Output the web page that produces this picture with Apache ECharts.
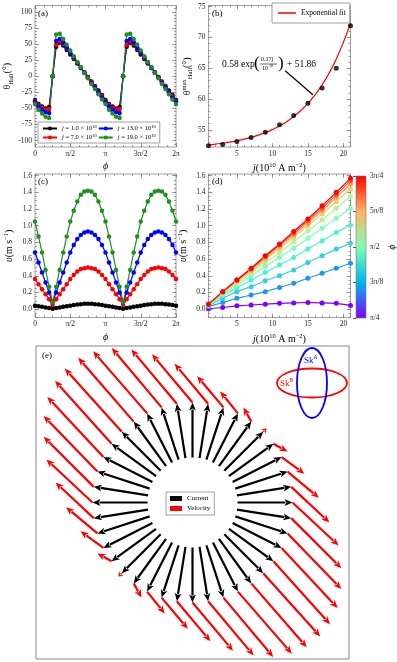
<!DOCTYPE html>
<html><head><meta charset="utf-8">
<script src="https://cdn.jsdelivr.net/npm/echarts@6/dist/echarts.min.js"></script>
<style>html,body{margin:0;padding:0;background:#fff}#main{width:397px;height:662px}</style>
</head><body><div id="main"></div>
<script>
const chart = echarts.init(document.getElementById('main'));
const FONT = 'Liberation Serif';

// phi in units of pi
const phiPi = [0,0.05,0.1,0.15,0.2,0.25,0.3,0.35,0.4,0.45,0.5,0.55,0.6,0.65,0.7,0.75,0.8,0.85,0.9,0.95,
  1,1.05,1.1,1.15,1.2,1.25,1.3,1.35,1.4,1.45,1.5,1.55,1.6,1.65,1.7,1.75,1.8,1.85,1.9,1.95,2];

// (a) Hall angle (deg)
const hallJ1 = [-37,-43,-47,-50,-48,0,46,52,48,41,34,27,20,13,6,-1,-8,-15,-22,-29,
  -37,-43,-47,-50,-48,0,46,52,48,41,34,27,20,13,6,-1,-8,-15,-22,-29,-37];
const hallJ7 = [-39,-45,-49,-52,-51,0,49,54,50,43,36,28,21,14,6,-1,-9,-16,-24,-31,
  -39,-45,-49,-52,-51,0,49,54,50,43,36,28,21,14,6,-1,-9,-16,-24,-31,-39];
const hallJ13 = [-40,-47,-52,-56,-57,0,55,58,52,44,36,29,21,13,6,-2,-10,-17,-25,-33,
  -40,-47,-52,-56,-57,0,55,58,52,44,36,29,21,13,6,-2,-10,-17,-25,-33,-40];
const hallJ19 = [-43,-52,-58,-63,-65,0,65,66,58,49,40,31,22,14,5,-3,-12,-20,-28,-36,
  -43,-52,-58,-63,-65,0,65,66,58,49,40,31,22,14,5,-3,-12,-20,-28,-36,-43];

// (b) max Hall angle vs j
const maxJ = [1,3,5,7,9,11,13,15,17,19,21];
const maxHall = [52.4,52.6,53.1,53.75,54.6,55.8,57.3,59.3,61.8,65.0,71.9];
const fitJ = [1,2,3,4,5,6,7,8,9,10,11,12,13,14,15,16,17,18,19,20,21];
const fitVal = [52.55,52.67,52.83,53.0,53.22,53.47,53.77,54.12,54.54,55.03,55.62,56.32,57.15,58.13,59.29,60.66,62.3,64.23,66.52,69.24,72.3];

// (c) speed vs phi (m/s)
const velJ1 = [0.04,0.035,0.03,0.02,0.015,0.005,0.015,0.02,0.03,0.035,0.04,0.05,0.055,0.06,0.065,0.065,0.065,0.06,0.055,0.05,
  0.04,0.035,0.03,0.02,0.015,0.005,0.015,0.02,0.03,0.035,0.04,0.05,0.055,0.06,0.065,0.065,0.065,0.06,0.055,0.05,0.04];
const velJ7 = [0.36,0.30,0.24,0.18,0.12,0.05,0.12,0.18,0.24,0.30,0.36,0.41,0.45,0.48,0.49,0.50,0.49,0.48,0.45,0.41,
  0.36,0.30,0.24,0.18,0.12,0.05,0.12,0.18,0.24,0.30,0.36,0.41,0.45,0.48,0.49,0.50,0.49,0.48,0.45,0.41,0.36];
const velJ13 = [0.68,0.56,0.44,0.32,0.20,0.08,0.20,0.32,0.44,0.56,0.68,0.77,0.84,0.89,0.92,0.93,0.92,0.89,0.84,0.77,
  0.68,0.56,0.44,0.32,0.20,0.08,0.20,0.32,0.44,0.56,0.68,0.77,0.84,0.89,0.92,0.93,0.92,0.89,0.84,0.77,0.68];
const velJ19 = [1.05,0.87,0.68,0.47,0.27,0.08,0.27,0.47,0.68,0.87,1.05,1.18,1.29,1.37,1.41,1.42,1.41,1.37,1.29,1.18,
  1.05,0.87,0.68,0.47,0.27,0.08,0.27,0.47,0.68,0.87,1.05,1.18,1.29,1.37,1.41,1.42,1.41,1.37,1.29,1.18,1.05];

// (d) speed vs j for several phi
const dJ = [1,3,5,7,9,11,13,15,17,19,21];
const dV0 = [0.005,0.02,0.04,0.05,0.06,0.07,0.075,0.08,0.075,0.07,0.045];
const dV1 = [0.03,0.08,0.13,0.17,0.21,0.26,0.31,0.37,0.43,0.49,0.55];
const dV2 = [0.04,0.13,0.21,0.27,0.34,0.40,0.47,0.56,0.64,0.72,0.79];
const dV3 = [0.05,0.16,0.26,0.35,0.44,0.53,0.62,0.72,0.82,0.92,1.01];
const dV4 = [0.05,0.18,0.29,0.40,0.51,0.62,0.73,0.85,0.97,1.09,1.21];
const dV5 = [0.06,0.19,0.31,0.43,0.56,0.68,0.81,0.94,1.07,1.21,1.35];
const dV6 = [0.06,0.20,0.33,0.45,0.59,0.72,0.86,1.00,1.14,1.29,1.44];
const dV7 = [0.06,0.20,0.34,0.47,0.61,0.75,0.89,1.03,1.18,1.34,1.50];
const dV8 = [0.06,0.21,0.35,0.48,0.63,0.77,0.91,1.06,1.21,1.37,1.54];
const dV9 = [0.06,0.21,0.35,0.49,0.64,0.78,0.93,1.08,1.24,1.40,1.57];
const dLines = [dV0,dV1,dV2,dV3,dV4,dV5,dV6,dV7,dV8,dV9];
const dColors = ['#8000ff','#1a96f3','#33cfe4','#4df3ce','#80ffb4','#b3f396','#e6cf74','#ff964f','#ff4f28','#ff0000'];
const rainbow = ['#8000ff','#00b4ec','#80ffb4','#ffb462','#ff0000'];

const cBlack = '#000000', cRed = '#ff0000', cBlue = '#0000ff', cGreen = '#1f8f1f';

// (e) arrows: current radius and velocity scale
const R_IN = 0.9, R_OUT = 2.0, VEL_SCALE = 1.2;

const xAxes = [], yAxes = [];
const tickStyle = {color: '#222', fontFamily: FONT, fontSize: 7.5};
const nameStyle = {color: '#000', fontFamily: FONT, fontSize: 10,
  rich: {i: {fontStyle: 'italic', fontSize: 10, fontFamily: FONT},
         sub: {fontSize: 6.5, fontFamily: FONT, padding: [6, 0, 0, 0]},
         sup: {fontSize: 6.5, fontFamily: FONT, padding: [0, 0, 6, 0]}}};

function range(a, b, s) { const r = []; for (let v = a; v <= b + 1e-9; v += s) r.push(+v.toFixed(4)); return r; }

function makeAxes(g, dim, r) {
  const list = dim === 'x' ? xAxes : yAxes;
  const pos = dim === 'x' ? ['bottom', 'top'] : ['left', 'right'];
  const idx = list.length;
  pos.forEach((p, k) => {
    [r.major, r.minor].forEach((vals, m) => {
      const main = k === 0 && m === 0;
      list.push({
        gridIndex: g, type: 'value', position: p, min: r.min, max: r.max,
        name: main ? (r.name || '') : '', nameLocation: 'middle', nameGap: r.gap || 12,
        nameRotate: dim === 'y' ? 90 : 0, nameTextStyle: nameStyle,
        axisLine: {show: false, onZero: false}, splitLine: {show: false},
        axisTick: {show: true, inside: true, length: m === 0 ? 4 : 2, customValues: vals,
          lineStyle: {color: '#777', width: 0.7}},
        axisLabel: main ? {show: true, customValues: r.major, formatter: r.fmt, margin: 3, ...tickStyle}
                        : {show: false}
      });
    });
  });
  return idx;
}

const piFmt = v => ({0: '0', 0.5: 'π/2', 1: 'π', 1.5: '3π/2', 2: '2π'})[Math.round(v * 2) / 2];
const jName = '{i|j}(10{sup|10} A m{sup|−2})';
const vName = '{i|υ}(m s{sup|−1})';

// grid a
const axA = makeAxes(0, 'x', {min: 0, max: 2, major: [0, 0.5, 1, 1.5, 2], minor: range(0, 2, 0.125), fmt: piFmt, name: '{i|ϕ}', gap: 14});
const ayA = makeAxes(0, 'y', {min: -110, max: 110, major: range(-100, 100, 25), minor: range(-105, 105, 5), fmt: v => String(v), name: 'θ{sub|Hall}(°)', gap: 19});
// grid b
const axB = makeAxes(1, 'x', {min: 1, max: 21, major: [5, 10, 15, 20], minor: range(1, 21, 1), fmt: v => String(v), name: jName, gap: 15});
const ayB = makeAxes(1, 'y', {min: 52.2, max: 75.2, major: [55, 60, 65, 70, 75], minor: range(53, 75, 1), fmt: v => String(v), name: 'θ{sup|max}{sub|Hall}(°)', gap: 13});
// grid c
const axC = makeAxes(2, 'x', {min: 0, max: 2, major: [0, 0.5, 1, 1.5, 2], minor: range(0, 2, 0.125), fmt: piFmt, name: '{i|ϕ}', gap: 15});
const ayC = makeAxes(2, 'y', {min: -0.1, max: 1.62, major: range(0, 1.6, 0.2), minor: range(-0.1, 1.6, 0.05), fmt: v => v.toFixed(1), name: vName, gap: 19});
// grid d
const axD = makeAxes(3, 'x', {min: 1, max: 21, major: [5, 10, 15, 20], minor: range(1, 21, 1), fmt: v => String(v), name: jName, gap: 15});
const ayD = makeAxes(3, 'y', {min: -0.1, max: 1.62, major: range(0, 1.6, 0.2), minor: range(-0.1, 1.6, 0.05), fmt: v => v.toFixed(1), name: vName, gap: 19});
// colorbar grid 4
const axCB = xAxes.length;
xAxes.push({gridIndex: 4, type: 'value', min: 0, max: 1, show: false});
const ayCB = yAxes.length;
yAxes.push({gridIndex: 4, type: 'value', min: 0.25, max: 0.75, position: 'right',
  name: '{i|ϕ}', nameLocation: 'middle', nameRotate: -90, nameGap: 22, nameTextStyle: nameStyle,
  axisLine: {show: false}, splitLine: {show: false},
  axisTick: {show: true, inside: true, length: 3, customValues: [0.25, 0.375, 0.5, 0.625, 0.75], lineStyle: {color: '#555'}},
  axisLabel: {show: true, customValues: [0.25, 0.375, 0.5, 0.625, 0.75], margin: 4, ...tickStyle,
    formatter: v => ({0.25: 'π/4', 0.375: '3π/8', 0.5: 'π/2', 0.625: '5π/8', 0.75: '3π/4'})[v]}});
// grid e
const axE = xAxes.length;
xAxes.push({gridIndex: 5, type: 'value', min: -3.13, max: 3.13, show: false});
const ayE = yAxes.length;
yAxes.push({gridIndex: 5, type: 'value', min: -3.13, max: 3.13, show: false});

function pairs(xs, ys) { return xs.map((x, i) => [x, ys[i]]); }

function lineSeries(name, color, xs, ys, ax, ay, size) {
  return {name, type: 'line', xAxisIndex: ax, yAxisIndex: ay, data: pairs(xs, ys),
    symbol: 'circle', symbolSize: size || 4.5, showSymbol: true,
    lineStyle: {color, width: 1.2}, itemStyle: {color}, animation: false};
}

const series = [
  lineSeries('j1', cBlack, phiPi, hallJ1, axA, ayA),
  lineSeries('j7', cRed, phiPi, hallJ7, axA, ayA),
  lineSeries('j13', cBlue, phiPi, hallJ13, axA, ayA),
  lineSeries('j19', cGreen, phiPi, hallJ19, axA, ayA),
  {name: 'Exponential fit', type: 'line', xAxisIndex: axB, yAxisIndex: ayB, data: pairs(fitJ, fitVal),
    smooth: true, symbol: 'none', lineStyle: {color: cRed, width: 1.2}, itemStyle: {color: cRed}, z: 2,
    markLine: {silent: true, symbol: ['none', 'arrow'], symbolSize: [0, 7], label: {show: false},
      lineStyle: {color: '#000', width: 1.2, type: 'solid'},
      data: [[{coord: [11.8, 64.6]}, {coord: [15.7, 60.7]}]]}},
  {name: 'max', type: 'scatter', xAxisIndex: axB, yAxisIndex: ayB, data: pairs(maxJ, maxHall),
    symbolSize: 5, itemStyle: {color: '#000'}, z: 3},
  lineSeries('c1', cBlack, phiPi, velJ1, axC, ayC),
  lineSeries('c7', cRed, phiPi, velJ7, axC, ayC),
  lineSeries('c13', cBlue, phiPi, velJ13, axC, ayC),
  lineSeries('c19', cGreen, phiPi, velJ19, axC, ayC)
];
dLines.forEach((vals, k) => series.push(lineSeries('d' + k, dColors[k], dJ, vals, axD, ayD, 5)));

series.push({type: 'custom', xAxisIndex: axCB, yAxisIndex: ayCB, data: [[0, 0.25, 1, 0.75]],
  renderItem: (params, api) => {
    const p0 = api.coord([0, 0.75]), p1 = api.coord([1, 0.25]);
    return {type: 'rect', shape: {x: p0[0], y: p0[1], width: p1[0] - p0[0], height: p1[1] - p0[1]},
      style: {fill: new echarts.graphic.LinearGradient(0, 1, 0, 0,
        rainbow.map((c, i) => ({offset: i / (rainbow.length - 1), color: c}))), stroke: '#777', lineWidth: 0.6}};
  }});

// arrows for (e)
const currentData = [], velocityData = [];
for (let i = 0; i < 40; i++) {
  const a = phiPi[i] * Math.PI;
  const x0 = R_IN * Math.cos(a), y0 = R_IN * Math.sin(a);
  const x1 = R_OUT * Math.cos(a), y1 = R_OUT * Math.sin(a);
  currentData.push([x0, y0, x1, y1]);
  const b = a + hallJ19[i] * Math.PI / 180;
  const L = velJ19[i] * VEL_SCALE;
  velocityData.push([x1, y1, x1 + L * Math.cos(b), y1 + L * Math.sin(b)]);
}
function arrowRender(params, api) {
  const color = api.visual('color');
  const p0 = api.coord([api.value(0), api.value(1)]);
  const p1 = api.coord([api.value(2), api.value(3)]);
  const dx = p1[0] - p0[0], dy = p1[1] - p0[1];
  const L = Math.hypot(dx, dy);
  if (L < 0.5) return null;
  const ux = dx / L, uy = dy / L;
  const hl = Math.min(8, L * 0.95), hw = 3.4;
  const bx = p1[0] - ux * hl, by = p1[1] - uy * hl;
  return {type: 'group', children: [
    {type: 'line', shape: {x1: p0[0], y1: p0[1], x2: bx + ux, y2: by + uy}, style: {stroke: color, lineWidth: 2.2}},
    {type: 'polygon', shape: {points: [[p1[0], p1[1]], [bx - uy * hw, by + ux * hw], [bx + ux * 2, by + uy * 2], [bx + uy * hw, by - ux * hw]]},
      style: {fill: color}}
  ]};
}
series.push({name: 'Current', type: 'custom', xAxisIndex: axE, yAxisIndex: ayE, data: currentData,
  encode: {x: [0, 2], y: [1, 3]}, itemStyle: {color: '#000'}, renderItem: arrowRender});
series.push({name: 'Velocity', type: 'custom', xAxisIndex: axE, yAxisIndex: ayE, data: velocityData,
  encode: {x: [0, 2], y: [1, 3]}, itemStyle: {color: '#ff0000'}, renderItem: arrowRender});

const legText = {fontFamily: FONT, fontSize: 6.5, color: '#000',
  rich: {i: {fontStyle: 'italic', fontFamily: FONT, fontSize: 6.5}, sup: {fontSize: 4.5, fontFamily: FONT, padding: [0, 0, 4, 0]}}};
const jLabel = {j1: '1.0', j7: '7.0', j13: '13.0', j19: '19.0'};

const label = (t, x, y) => ({type: 'text', left: x, top: y, style: {text: t, font: '9px "Liberation Serif"', fill: '#000'}});

const option = {
  animation: false,
  backgroundColor: '#fff',
  grid: [
    {left: 35, top: 5.5, width: 141, height: 141.5, show: true, borderColor: '#888', borderWidth: 0.8, outerBoundsMode: 'none'},
    {left: 208.5, top: 5.5, width: 142, height: 141.5, show: true, borderColor: '#888', borderWidth: 0.8, outerBoundsMode: 'none'},
    {left: 35, top: 174, width: 141, height: 143.5, show: true, borderColor: '#888', borderWidth: 0.8, outerBoundsMode: 'none'},
    {left: 208.5, top: 174, width: 142, height: 143.5, show: true, borderColor: '#888', borderWidth: 0.8, outerBoundsMode: 'none'},
    {left: 356, top: 176, width: 10, height: 142, outerBoundsMode: 'none'},
    {left: 36, top: 346, width: 313, height: 313, show: true, borderColor: '#888', borderWidth: 1, outerBoundsMode: 'none'}
  ],
  xAxis: xAxes,
  yAxis: yAxes,
  legend: [
    {data: ['j1', 'j7', 'j13', 'j19'], orient: 'vertical', left: 38, top: 122, height: 18, itemGap: 1,
      itemWidth: 14, itemHeight: 5, padding: [2, 4, 2, 4], borderColor: '#888', borderWidth: 0.8, backgroundColor: '#fff',
      textStyle: legText, formatter: n => '{i|j} = ' + jLabel[n] + ' × 10{sup|10}'},
    {data: [{name: 'Exponential fit', icon: 'rect'}], left: 272, top: 3, itemWidth: 18, itemHeight: 1.5, padding: [6, 4, 6, 6],
      borderColor: '#888', borderWidth: 0.8, backgroundColor: '#fff', textStyle: {fontFamily: FONT, fontSize: 7.5, color: '#000'}},
    {data: ['Current', 'Velocity'], orient: 'vertical', left: 166, top: 492, itemGap: 3, icon: 'rect',
      itemWidth: 12, itemHeight: 5, padding: [3, 4, 3, 4], borderColor: '#888', borderWidth: 0.8, backgroundColor: '#fff',
      textStyle: {fontFamily: FONT, fontSize: 7, color: '#000'}}
  ],
  series,
  graphic: [
    label('(a)', 38, 9), label('(b)', 212, 9), label('(c)', 38, 177), label('(d)', 212, 177), label('(e)', 42, 351),
    {type: 'text', left: 222, top: 59, style: {text: '0.58 exp', font: '9.5px "Liberation Serif"', fill: '#000'}},
    {type: 'text', left: 254, top: 55, style: {text: '(', font: '17px "Liberation Serif"', fill: '#000'}},
    {type: 'text', left: 261, top: 56, style: {text: '0.17j', font: '6px "Liberation Serif"', fill: '#000'}},
    {type: 'line', shape: {x1: 260, y1: 64, x2: 277, y2: 64}, style: {stroke: '#000', lineWidth: 0.6}},
    {type: 'text', left: 262, top: 65, style: {text: '10', font: '6px "Liberation Serif"', fill: '#000'}},
    {type: 'text', left: 269, top: 64, style: {text: '10', font: '4px "Liberation Serif"', fill: '#000'}},
    {type: 'text', left: 278, top: 55, style: {text: ')', font: '17px "Liberation Serif"', fill: '#000'}},
    {type: 'text', left: 287, top: 59, style: {text: '+ 51.86', font: '9.5px "Liberation Serif"', fill: '#000'}},
    {type: 'ellipse', shape: {cx: 312, cy: 383, rx: 35, ry: 14.5}, style: {fill: 'none', stroke: '#ff0000', lineWidth: 1.8}, z: 10},
    {type: 'ellipse', shape: {cx: 312, cy: 383, rx: 15, ry: 35}, style: {fill: 'none', stroke: '#0000ff', lineWidth: 1.8}, z: 10},
    {type: 'text', left: 304, top: 355, z: 10, style: {text: 'Sk{s|A}', fill: '#0000ff', font: '9px "Liberation Serif"',
      rich: {s: {fontSize: 5.5, fontFamily: FONT, fill: '#0000ff', padding: [0, 0, 5, 0]}}}},
    {type: 'text', left: 280, top: 378, z: 10, style: {text: 'Sk{s|B}', fill: '#ff0000', font: '9px "Liberation Serif"',
      rich: {s: {fontSize: 5.5, fontFamily: FONT, fill: '#ff0000', padding: [0, 0, 5, 0]}}}}
  ]
};
chart.setOption(option);
</script></body></html>
